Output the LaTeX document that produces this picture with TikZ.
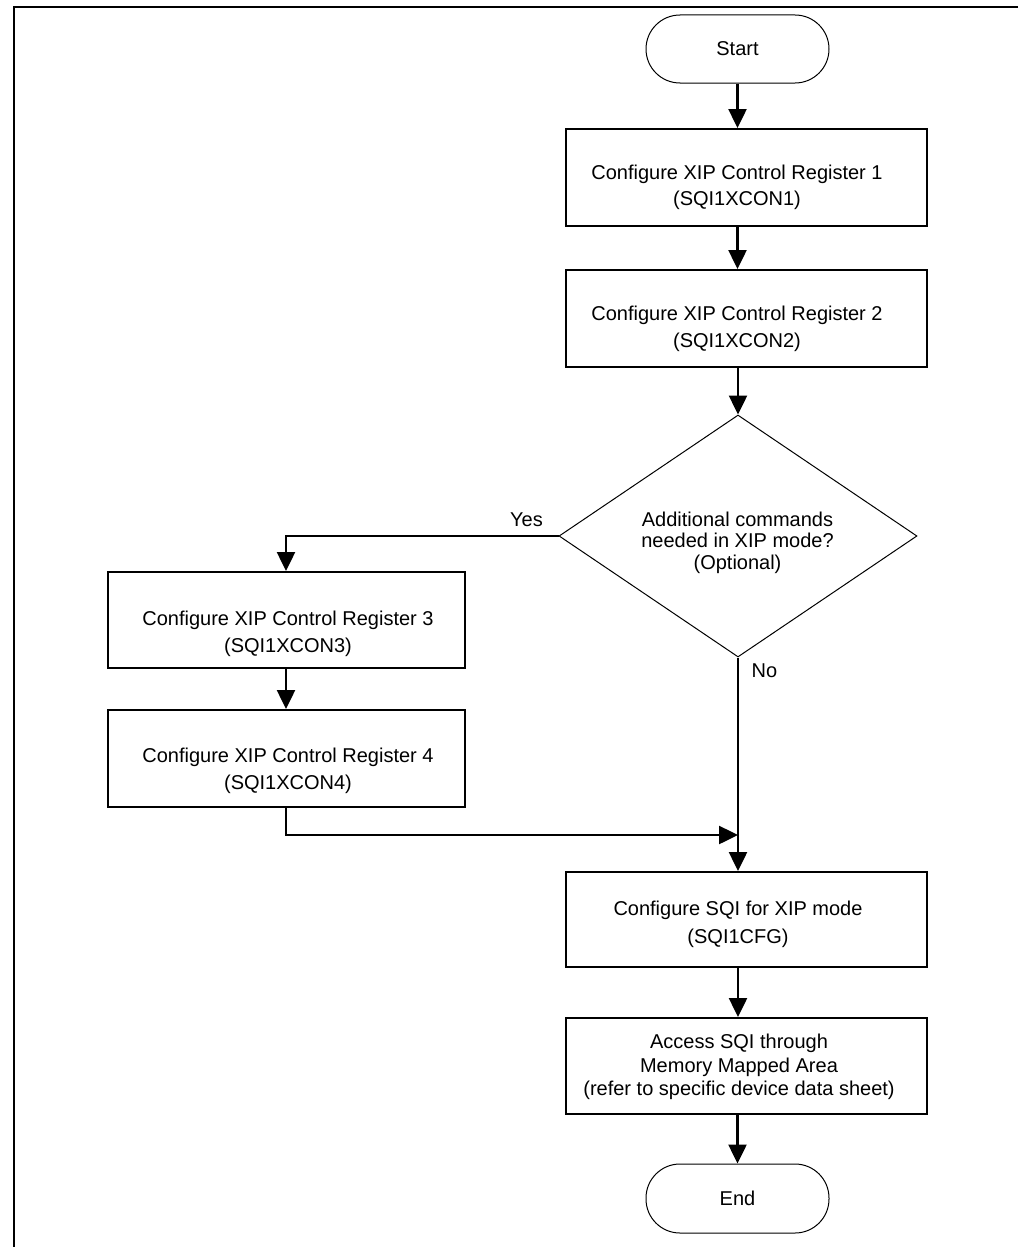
\documentclass[tikz,border=0pt]{standalone}
\usepackage{fontspec}
\setmainfont{Liberation Sans}
\usetikzlibrary{arrows.meta,shapes.geometric}
\begin{document}
\begin{tikzpicture}[x=1pt,y=-1pt,
  box/.style={draw, rectangle, line width=2pt, inner sep=0pt},
  term/.style={draw, rectangle, rounded corners=34pt, line width=1pt, inner sep=0pt,
    minimum width=183pt, font=\fontsize{20}{24}\selectfont},
  txt/.style={align=center, inner sep=0pt},
  conn/.style={line width=2.5pt, -{Triangle[length=19pt,width=18pt]}},
  line/.style={line width=2.5pt},
  lbl/.style={inner sep=0pt, font=\fontsize{20}{24}\selectfont}]
\useasboundingbox (0,0) rectangle (1018,1247);
% frame
\draw[line width=2.7pt] (1018,7) -- (14,7) -- (14,1247);
% nodes
\node[term, minimum height=68pt] (start) at (737.5,49) {Start};
\node[box, minimum width=361pt, minimum height=97pt] (b1) at (746.5,177.5) {};
\node[txt, font=\fontsize{20}{26.3}\selectfont] (t1) at (737,187) {Configure XIP Control Register 1\\(SQI1XCON1)};
\node[box, minimum width=361pt, minimum height=97pt] (b2) at (746.5,318.5) {};
\node[txt, font=\fontsize{20}{27}\selectfont] (t2) at (737,328.5) {Configure XIP Control Register 2\\(SQI1XCON2)};
\node[draw, diamond, line width=1pt, inner sep=0pt, aspect=1.48,
  minimum width=358pt, minimum height=242pt] (d) at (738,536) {};
\node[txt, font=\fontsize{20}{21.7}\selectfont] (td) at (737.5,542.7) {Additional commands\\needed in XIP mode?\\(Optional)};
\node[box, minimum width=357pt, minimum height=96pt] (b3) at (286,620) {};
\node[txt, font=\fontsize{20}{27}\selectfont] (t3) at (288,633.5) {Configure XIP Control Register 3\\(SQI1XCON3)};
\node[box, minimum width=357pt, minimum height=97pt] (b4) at (286,758.5) {};
\node[txt, font=\fontsize{20}{27}\selectfont] (t4) at (288,770.5) {Configure XIP Control Register 4\\(SQI1XCON4)};
\node[box, minimum width=361pt, minimum height=95pt] (b5) at (746.5,919.5) {};
\node[txt, font=\fontsize{20}{28}\selectfont] (t5) at (738,924) {Configure SQI for XIP mode\\(SQI1CFG)};
\node[box, minimum width=361pt, minimum height=96pt] (b6) at (746.5,1066) {};
\node[txt, font=\fontsize{20}{23.3}\selectfont] (t6) at (739,1067) {Access SQI through\\Memory Mapped Area\\(refer to specific device data sheet)};
\node[term, minimum height=69pt] (end) at (737.5,1198.5) {End};
\node[lbl] (yes) at (526.5,520) {Yes};
\node[lbl] (no) at (764.5,671) {No};
\coordinate (jn) at (738,835);
% connectors
\draw[conn] (start.south) -- (start.south |- b1.north);
\draw[conn] (b1.south -| start.south) -- (b2.north -| start.south);
\draw[conn] (b2.south -| d.north) -- (d.north);
\draw[conn] (d.west) -| (b3.north);
\draw[conn] (b3.south) -- (b4.north);
\draw[conn] (b4.south) |- (jn);
\draw[conn] (d.south) -- (d.south |- b5.north);
\draw[conn] (b5.south -| d.south) -- (b6.north -| d.south);
\draw[conn] (b6.south -| end.north) -- (end.north);
\end{tikzpicture}
\end{document}
